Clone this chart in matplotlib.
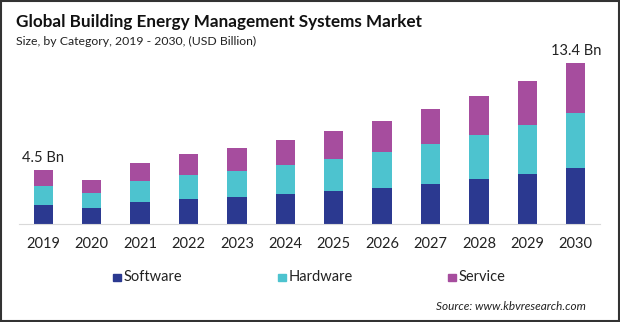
import matplotlib
matplotlib.use("Agg")
import matplotlib.pyplot as plt
from matplotlib.patches import Rectangle
import numpy as np

# ── Data (USD Billion) ───────────────────────────────────────────────────────
years    = ["2019", "2020", "2021", "2022", "2023", "2024",
            "2025", "2026", "2027", "2028", "2029", "2030"]
software = [1.60, 1.33, 1.83, 2.08, 2.25, 2.50, 2.75, 3.00, 3.33, 3.75, 4.17, 4.67]
hardware = [1.55, 1.25, 1.75, 2.00, 2.17, 2.42, 2.67, 3.00, 3.33, 3.67, 4.08, 4.58]
service  = [1.35, 1.08, 1.50, 1.75, 1.92, 2.08, 2.33, 2.58, 2.92, 3.25, 3.67, 4.15]
labels   = {0: "4.5 Bn", 11: "13.4 Bn"}

COLORS = {"Software": "#2b3990", "Hardware": "#4dc3cf", "Service": "#a64d9e"}
FONT = ["Lato", "DejaVu Sans"]
plt.rcParams["font.family"] = FONT

fig = plt.figure(figsize=(6.2, 3.22), dpi=100)
ax = fig.add_axes([19 / 620, 1 - 224 / 322, 581 / 620, 169 / 322])

x = np.arange(len(years))
w = 0.4
sw = np.array(software)
hw = np.array(hardware)
sv = np.array(service)
ax.bar(x, sw, w, color=COLORS["Software"], label="Software")
ax.bar(x, hw, w, bottom=sw, color=COLORS["Hardware"], label="Hardware")
ax.bar(x, sv, w, bottom=sw + hw, color=COLORS["Service"], label="Service")

total = sw + hw + sv
for i, txt in labels.items():
    ax.text(x[i], total[i] + 0.45, txt, ha="center", va="bottom",
            fontsize=10.5, color="#222222")

ax.set_xlim(-0.5, 11.5)
ax.set_ylim(0, 14.08)
ax.set_xticks(x)
ax.set_xticklabels(years, fontsize=10.5, color="#222222")
ax.tick_params(axis="x", length=0, pad=9)
ax.set_yticks([])
for s in ["top", "right", "left"]:
    ax.spines[s].set_visible(False)
ax.spines["bottom"].set_color("#d9d9d9")
ax.patch.set_alpha(0)

# titles
fig.text(16 / 620, 1 - 22 / 322, "Global Building Energy Management Systems Market",
         fontsize=12.3, fontweight="bold", va="center", ha="left", color="#111111")
fig.text(16 / 620, 1 - 41 / 322, "Size, by Category, 2019 - 2030, (USD Billion)",
         fontsize=8.8, va="center", ha="left", color="#222222")

# legend
leg = [("Software", 113), ("Hardware", 278), ("Service", 448)]
for name, px in leg:
    fig.patches.append(Rectangle((px / 620, 1 - 281 / 322), 8 / 620, 7 / 322,
                                 transform=fig.transFigure, color=COLORS[name]))
    fig.text((px + 11) / 620, 1 - 277 / 322, name, fontsize=10.5,
             va="center", ha="left", color="#222222")

fig.text(586 / 620, 1 - 306 / 322, "Source: www.kbvresearch.com",
         fontsize=8.5, style="italic", va="center", ha="right", color="#222222")

# outer frame
fig.patches.append(Rectangle((1 / 620, 1 / 322), 618 / 620, 320 / 322,
                             transform=fig.transFigure, fill=False,
                             edgecolor="#333333", linewidth=1.5))

fig.savefig("out.png", dpi=100)
